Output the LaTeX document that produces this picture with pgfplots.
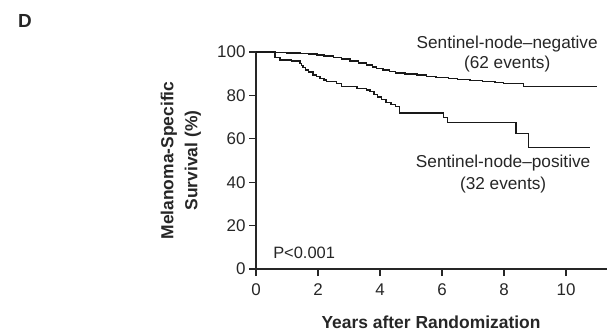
\documentclass[border=0pt]{standalone}
\usepackage{fontspec}
\setmainfont{Liberation Sans}
\usepackage{pgfplots}
\pgfplotsset{compat=1.18}
\begin{document}
\begin{tikzpicture}[x=1bp,y=1bp]
\useasboundingbox (0,0) rectangle (609,331);
\node[font=\fontsize{19}{21}\selectfont\bfseries, text=black!85] at (25,310.5) {D};
\begin{axis}[
  at={(256bp,62bp)}, anchor=south west,
  scale only axis, width=351bp, height=217bp,
  xmin=0, xmax=11.32, ymin=0, ymax=100,
  axis x line=bottom, axis y line=left,
  axis line style={-, line width=1.3bp, black!85},
  xtick={0,2,4,6,8,10}, ytick={0,20,40,60,80,100},
  tick align=outside, major tick length=7bp,
  tick style={line width=1.3bp, black!85},
  tick label style={font=\fontsize{17}{19}\selectfont, text=black!85},
  /pgf/number format/assume math mode=true,
  xticklabel style={anchor=base, yshift=-19bp},
  yticklabel style={anchor=east, xshift=0bp},
  clip=false,
  xlabel={Years after Randomization},
  xlabel style={font=\fontsize{17.5}{19}\selectfont\bfseries, text=black!85, at={(axis description cs:0.4986,-0.273)}, anchor=base},
  ylabel={Melanoma-Specific\\Survival (\%)},
  ylabel style={font=\fontsize{17.5}{24}\selectfont\bfseries, text=black!85, align=center, at={(axis description cs:-0.214,0.5)}, anchor=center, rotate=0},
]
\addplot[const plot mark left, line width=1.5bp, black!90] coordinates {
(0,100) (0.55,99.8) (1.0,99.6) (1.42,99.3) (1.7,99.0) (1.96,98.6) (2.2,98.1)
(2.5,97.4) (2.75,96.7) (3.03,95.9) (3.3,95.0) (3.57,94.0) (3.75,93.2) (3.89,92.5)
(4.1,91.6) (4.3,91.0) (4.5,90.4) (4.8,89.9) (5.2,89.3) (5.5,88.8) (5.8,88.3)
(6.2,87.8) (6.5,87.3) (6.9,86.8) (7.3,86.5) (7.7,86.0) (7.98,85.4) (8.63,84.0) (10.99,84.0)
};
\addplot[const plot mark left, line width=1.5bp, black!90] coordinates {
(0,100) (0.61,97.4) (0.77,96.3) (1.15,95.8) (1.42,94.8) (1.47,93.8) (1.52,92.8)
(1.6,91.8) (1.7,90.8) (1.84,89.4) (1.95,88.6) (2.06,87.9) (2.2,87.1) (2.28,86.3)
(2.6,85.5) (2.76,84.0) (3.25,83.2) (3.57,82.5) (3.68,81.7) (3.80,80.5) (3.92,79.3)
(4.05,78.0) (4.2,76.7) (4.35,75.8) (4.5,74.8) (4.62,72.0) (6.04,69.9) (6.17,67.6)
(8.39,62.5) (8.78,56.1) (10.77,56.1)
};
\node[font=\fontsize{17.3}{19}\selectfont, text=black!85] at (axis cs:8.1,103.7) {Sentinel-node--negative};
\node[font=\fontsize{17.3}{19}\selectfont, text=black!85] at (axis cs:8.1,94.5) {(62 events)};
\node[font=\fontsize{17.3}{19}\selectfont, text=black!85] at (axis cs:7.97,49.0) {Sentinel-node--positive};
\node[font=\fontsize{17.3}{19}\selectfont, text=black!85] at (axis cs:7.97,38.7) {(32 events)};
\node[font=\fontsize{16.5}{18}\selectfont, text=black!85, anchor=west, inner sep=0pt] at (axis cs:0.55,7.5) {P<0.001};
\end{axis}
\end{tikzpicture}
\end{document}
